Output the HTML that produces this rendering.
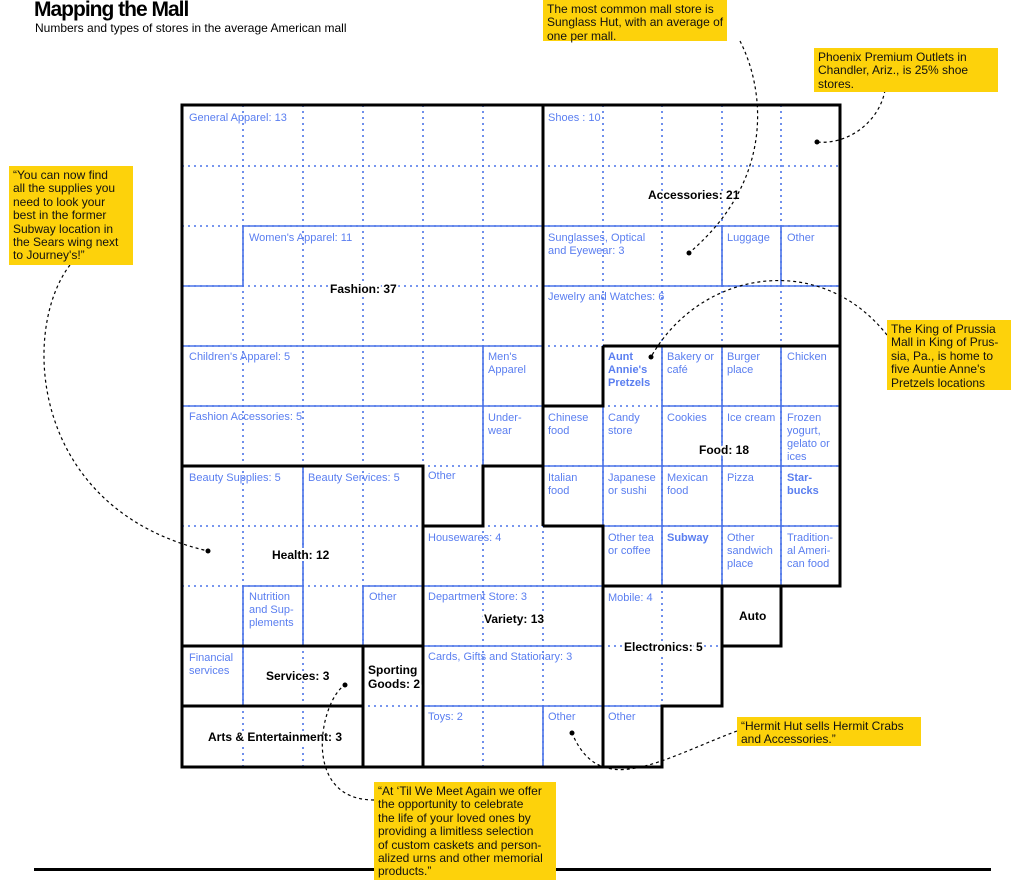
<!DOCTYPE html>
<html><head><meta charset="utf-8"><style>
html,body{margin:0;padding:0;background:#fff;}
body{width:1023px;height:883px;overflow:hidden;position:relative;font-family:"Liberation Sans",sans-serif;}
.t{position:absolute;left:34px;top:-2px;font-size:21px;font-weight:bold;letter-spacing:-1px;}
.s{position:absolute;left:35px;top:21px;font-size:12px;}
.y{position:absolute;background:#fdd20b;font-size:12px;line-height:13.4px;padding:3px 4px;box-sizing:border-box;color:#111;white-space:nowrap;}
</style></head><body>
<div class="t">Mapping the Mall</div>
<div class="s">Numbers and types of stores in the average American mall</div>
<svg width="1023" height="883" style="position:absolute;left:0;top:0" font-family="Liberation Sans, sans-serif">
<defs><clipPath id="c"><polygon points="182,105 840,105 840,586 781,586 781,646 722,646 722,706 662,706 662,767 182,767"/></clipPath></defs>
<g clip-path="url(#c)" stroke="#4a73e8" stroke-width="1.6" stroke-dasharray="2,4">
<path d="M243 105V767M303 105V767M363 105V767M423 105V767M483 105V767M543 105V767M603 105V767M662 105V767M722 105V767M781 105V767M182 166H840M182 226H840M182 286H840M182 346H840M182 406H840M182 466H840M182 526H840M182 586H840M182 646H840M182 706H840"/>
</g>
<g stroke="#4a73e8" stroke-width="1.6" fill="none">
<path d="M243 226H543M243 226V286M182 286H243M182 346H543M483 346V466M182 406H543"/>
<path d="M543 226H840M722 226V286M781 226V286M543 286H840"/>
<path d="M662 346V586M722 346V586M781 346V586M603 406V526M543 466H840M603 526H840M662 406H840"/>
<path d="M303 466V646M243 586V646M243 586H303M363 586H423M363 586V646M243 646V706"/>
<path d="M423 586H603M423 646H603M423 706H603M543 706V767M603 706H662"/>
</g>
<g stroke="#000" stroke-width="3" fill="none" stroke-linejoin="miter">
<polygon points="182,105 840,105 840,586 781,586 781,646 722,646 722,706 662,706 662,767 182,767"/>
<path d="M543 105V526M182 466H423V526H483V466H543M603 346H840M603 346V406H543M543 526H603V586H840M423 526V767M182 646H423M603 526V767M722 586V646M363 646V767M182 706H363"/>
</g>
<g fill="#5a7ef0" font-size="11">
<text x="189" y="121">General Apparel: 13</text>
<text x="548" y="121">Shoes : 10</text>
<text x="249" y="241">Women's Apparel: 11</text>
<text x="548" y="241">Sunglasses, Optical</text><text x="548" y="254">and Eyewear: 3</text>
<text x="727" y="241">Luggage</text><text x="787" y="241">Other</text>
<text x="548" y="300">Jewelry and Watches: 6</text>
<text x="189" y="360">Children's Apparel: 5</text>
<text x="488" y="360">Men's</text><text x="488" y="373">Apparel</text>
<text x="608" y="360" font-weight="bold">Aunt</text><text x="608" y="373" font-weight="bold">Annie's</text><text x="608" y="386" font-weight="bold">Pretzels</text>
<text x="667" y="360">Bakery or</text><text x="667" y="373">café</text>
<text x="727" y="360">Burger</text><text x="727" y="373">place</text>
<text x="787" y="360">Chicken</text>
<text x="189" y="420">Fashion Accessories: 5</text>
<text x="488" y="421">Under-</text><text x="488" y="434">wear</text>
<text x="548" y="421">Chinese</text><text x="548" y="434">food</text>
<text x="608" y="421">Candy</text><text x="608" y="434">store</text>
<text x="667" y="421">Cookies</text><text x="727" y="421">Ice cream</text>
<text x="787" y="421">Frozen</text><text x="787" y="434">yogurt,</text><text x="787" y="447">gelato or</text><text x="787" y="460">ices</text>
<text x="189" y="481">Beauty Supplies: 5</text><text x="308" y="481">Beauty Services: 5</text>
<text x="428" y="479">Other</text>
<text x="548" y="481">Italian</text><text x="548" y="494">food</text>
<text x="608" y="481">Japanese</text><text x="608" y="494">or sushi</text>
<text x="667" y="481">Mexican</text><text x="667" y="494">food</text>
<text x="727" y="481">Pizza</text>
<text x="787" y="481" font-weight="bold">Star-</text><text x="787" y="494" font-weight="bold">bucks</text>
<text x="428" y="541">Housewares: 4</text>
<text x="608" y="541">Other tea</text><text x="608" y="554">or coffee</text>
<text x="667" y="541" font-weight="bold">Subway</text>
<text x="727" y="541">Other</text><text x="727" y="554">sandwich</text><text x="727" y="567">place</text>
<text x="787" y="541">Tradition-</text><text x="787" y="554">al Ameri-</text><text x="787" y="567">can food</text>
<text x="249" y="600">Nutrition</text><text x="249" y="613">and Sup-</text><text x="249" y="626">plements</text>
<text x="369" y="600">Other</text>
<text x="428" y="600">Department Store: 3</text>
<text x="608" y="601">Mobile: 4</text>
<text x="189" y="661">Financial</text><text x="189" y="674">services</text>
<text x="428" y="660">Cards, Gifts and Stationary: 3</text>
<text x="428" y="720">Toys: 2</text><text x="548" y="720">Other</text><text x="608" y="720">Other</text>
</g>
<g font-size="12" font-weight="bold" fill="#000" stroke="#fff" stroke-width="4" paint-order="stroke">
<text x="330" y="293">Fashion: 37</text>
<text x="648" y="199">Accessories: 21</text>
<text x="699" y="454">Food: 18</text>
<text x="272" y="559">Health: 12</text>
<text x="484" y="623">Variety: 13</text>
<text x="624" y="651">Electronics: 5</text>
<text x="739" y="620">Auto</text>
<text x="266" y="680">Services: 3</text>
<text x="368" y="674">Sporting</text><text x="368" y="688">Goods: 2</text>
<text x="208" y="741">Arts &amp; Entertainment: 3</text>
</g>
<g stroke="#000" stroke-width="1.2" stroke-dasharray="3,3" fill="none">
<path d="M740 41C765 90 775 180 689 253"/>
<path d="M885 90C880 120 850 145 817 142"/>
<path d="M70 265C20 330 30 510 208 551"/>
<path d="M887 335C820 250 700 270 651 357"/>
<path d="M737 731C660 760 600 800 572 733"/>
<path d="M374 800C300 800 320 700 345 685"/>
</g>
<g fill="#000"><circle cx="689" cy="253" r="2.5"/><circle cx="817" cy="142" r="2.5"/><circle cx="208" cy="551" r="2.5"/><circle cx="651" cy="357" r="2.5"/><circle cx="572" cy="733" r="2.5"/><circle cx="345" cy="685" r="2.5"/></g>
<rect x="34" y="868" width="957" height="3" fill="#000"/>
</svg>
<div class="y" style="left:543px;top:0;width:184px;height:41px;">The most common mall store is<br>Sunglass Hut, with an average of<br>one per mall.</div>
<div class="y" style="left:814px;top:48px;width:184px;height:44px;">Phoenix Premium Outlets in<br>Chandler, Ariz., is 25% shoe<br>stores.</div>
<div class="y" style="left:9px;top:166px;width:124px;height:99px;">“You can now find<br>all the supplies you<br>need to look your<br>best in the former<br>Subway location in<br>the Sears wing next<br>to Journey's!”</div>
<div class="y" style="left:887px;top:320px;width:124px;height:70px;">The King of Prussia<br>Mall in King of Prus-<br>sia, Pa., is home to<br>five Auntie Anne's<br>Pretzels locations</div>
<div class="y" style="left:737px;top:717px;width:184px;height:29px;">“Hermit Hut sells Hermit Crabs<br>and Accessories.”</div>
<div class="y" style="left:374px;top:782px;width:182px;height:98px;">“At ‘Til We Meet Again we offer<br>the opportunity to celebrate<br>the life of your loved ones by<br>providing a limitless selection<br>of custom caskets and person-<br>alized urns and other memorial<br>products.”</div>
</body></html>
